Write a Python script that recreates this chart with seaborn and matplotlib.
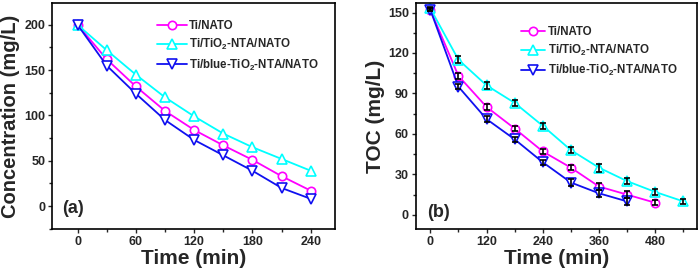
import numpy as np
import pandas as pd
import matplotlib
matplotlib.use("Agg")
import matplotlib.pyplot as plt
from matplotlib.ticker import MultipleLocator
import seaborn as sns

# (a) concentration vs time
time_a = [0, 30, 60, 90, 120, 150, 180, 210, 240]
conc_nato = [200, 162, 132, 105, 84, 67, 51, 33, 17]
conc_tio2 = [200, 172, 145, 120, 99, 80, 65, 52, 39]
conc_blue = [200, 155, 124, 95, 73, 56, 39, 20, 8]

# (b) TOC vs time
time_nato = [0, 60, 120, 180, 240, 300, 360, 420, 480]
time_tio2 = [0, 60, 120, 180, 240, 300, 360, 420, 480, 540]
time_blue = [0, 60, 120, 180, 240, 300, 360, 420]
toc_nato = [152, 103, 80, 64, 47, 35, 21, 15, 9]
toc_tio2 = [153, 115, 96, 83, 66, 48, 35, 25, 17, 10]
toc_blue = [152, 95, 71, 56, 39, 24, 16, 10]
err_nato = [1, 2.5, 2.5, 2, 2, 2, 2.5, 2.5, 2]
err_tio2 = [1, 2.5, 2.5, 2, 2, 2, 3, 2, 2, 2]
err_blue = [1, 2, 2, 2, 2, 2.5, 2.5, 2.5]

labels = ["Ti/NATO", "Ti/TiO$_2$-NTA/NATO", "Ti/blue-TiO$_2$-NTA/NATO"]
colors = ["#ff00ff", "#00ffff", "#1010f0"]
markers = ["o", "^", "v"]
msizes = [6, 7, 7]

sns.set_style("ticks")
plt.rcParams["font.family"] = ["Liberation Sans", "DejaVu Sans"]
plt.rcParams["font.weight"] = "bold"
plt.rcParams["mathtext.fontset"] = "custom"
plt.rcParams["mathtext.rm"] = "Liberation Sans:bold"
plt.rcParams["mathtext.bf"] = "Liberation Sans:bold"
plt.rcParams["mathtext.default"] = "bf"

fig = plt.figure(figsize=(7, 2.79), dpi=100)
ax1 = fig.add_axes([0.0747, 0.180, 0.404, 0.809])
ax2 = fig.add_axes([0.594, 0.179, 0.401, 0.810])

series_a = [conc_nato, conc_tio2, conc_blue]
for y, lab, c, m, s in zip(series_a, labels, colors, markers, msizes):
    sns.lineplot(x=time_a, y=y, ax=ax1, color=c, marker=m, markersize=s,
                 markerfacecolor="white", markeredgecolor=c, markeredgewidth=1.2,
                 linewidth=1.3, label=lab)

series_b = [(time_nato, toc_nato, err_nato), (time_tio2, toc_tio2, err_tio2),
            (time_blue, toc_blue, err_blue)]
for (x, y, e), lab, c, m, s in zip(series_b, labels, colors, markers, msizes):
    sns.lineplot(x=x, y=y, ax=ax2, color=c, marker=m, markersize=s,
                 markerfacecolor="white", markeredgecolor=c, markeredgewidth=1.2,
                 linewidth=1.3, label=lab)
    ax2.errorbar(x, y, yerr=e, fmt="none", ecolor="black", elinewidth=1.2,
                 capsize=2.5, capthick=1.2, zorder=3)

ax1.set_xlim(-26, 265)
ax1.set_ylim(-25, 224)
ax1.xaxis.set_major_locator(MultipleLocator(60))
ax1.xaxis.set_minor_locator(MultipleLocator(30))
ax1.yaxis.set_major_locator(MultipleLocator(50))
ax1.yaxis.set_minor_locator(MultipleLocator(25))
ax1.set_xlabel("Time (min)", fontsize=15, fontweight="bold", labelpad=1)
ax1.set_ylabel("Concentration (mg/L)", fontsize=14.5, fontweight="bold", labelpad=3)
ax1.text(0.034, 0.09, "(a)", transform=ax1.transAxes, fontsize=13,
         fontweight="bold", va="center")

ax2.set_xlim(-31, 568)
ax2.set_ylim(-10.5, 157)
ax2.xaxis.set_major_locator(MultipleLocator(120))
ax2.xaxis.set_minor_locator(MultipleLocator(60))
ax2.yaxis.set_major_locator(MultipleLocator(30))
ax2.yaxis.set_minor_locator(MultipleLocator(15))
ax2.set_xlabel("Time (min)", fontsize=15, fontweight="bold", labelpad=1)
ax2.set_ylabel("TOC (mg/L)", fontsize=15, fontweight="bold", labelpad=2)
ax2.text(0.04, 0.075, "(b)", transform=ax2.transAxes, fontsize=13,
         fontweight="bold", va="center")

for ax, anchor, hl in [(ax1, (0.37, 0.925), 2.6), (ax2, (0.375, 0.9), 2.1)]:
    for sp in ax.spines.values():
        sp.set_linewidth(1.2)
        sp.set_color("black")
    ax.tick_params(which="major", length=3, width=1, labelsize=9, pad=2)
    ax.tick_params(which="minor", length=2, width=1)
    for t in ax.get_xticklabels() + ax.get_yticklabels():
        t.set_fontweight("bold")
    ax.legend(loc="upper left", bbox_to_anchor=anchor, frameon=False,
              handlelength=hl, handletextpad=0.2,
              labelspacing=0.45, borderpad=0, borderaxespad=0,
              prop={"weight": "bold", "size": 8.3})

fig.savefig("out.png", dpi=100)
